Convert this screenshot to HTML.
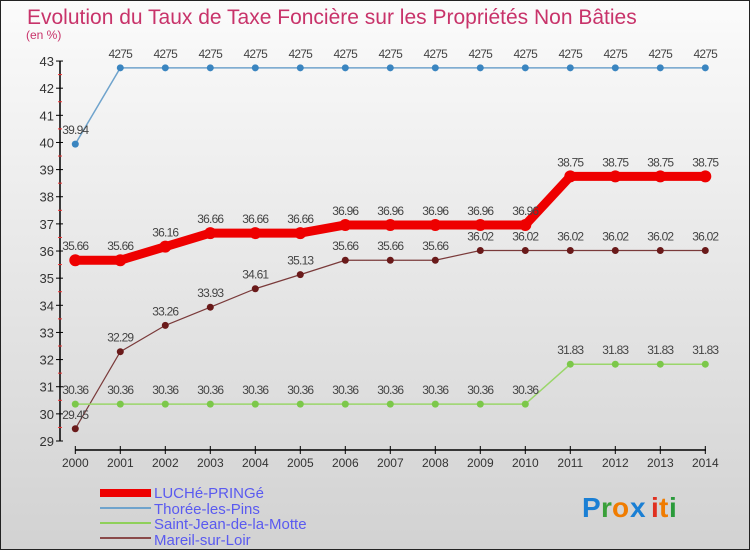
<!DOCTYPE html>
<html><head><meta charset="utf-8"><style>
body{margin:0;width:750px;height:550px;overflow:hidden;font-family:"Liberation Sans",sans-serif}
svg text{font-family:"Liberation Sans",sans-serif}
</style></head><body>
<svg id="c" width="750" height="550" xmlns="http://www.w3.org/2000/svg">
<defs><linearGradient id="bg" x1="0" y1="0" x2="0" y2="1"><stop offset="0" stop-color="#fbfbfb"/><stop offset="1" stop-color="#d2d2d2"/></linearGradient></defs>
<rect x="0.5" y="0.5" width="749" height="549" fill="url(#bg)" stroke="#222"/>
<text x="27" y="24" font-size="21" fill="#c8336a">Evolution du Taux de Taxe Foncière sur les Propriétés Non Bâties</text>
<text x="26" y="39" font-size="12" fill="#c8336a">(en %)</text>
<g id="axes"></g><g id="series"></g>
<g>
<rect x="100" y="489" width="51" height="8" fill="#e00"/>
<text x="154" y="498" font-size="15" fill="#5a5af0">LUCHé-PRINGé</text>
<rect x="100" y="507" width="51" height="2" fill="#6fa3cc"/>
<text x="154" y="514" font-size="15" fill="#5a5af0">Thorée-les-Pins</text>
<rect x="100" y="522" width="51" height="2" fill="#8fd05a"/>
<text x="154" y="529" font-size="15" fill="#5a5af0">Saint-Jean-de-la-Motte</text>
<rect x="100" y="537" width="51" height="2" fill="#8a4a4a"/>
<text x="154" y="545" font-size="15" fill="#5a5af0">Mareil-sur-Loir</text>
</g>
<g font-size="28" font-weight="bold">
<text x="582" y="517" fill="#1a7fd4">P</text><text x="601" y="517" fill="#3aa03a">r</text><text x="612" y="517" fill="#f07c00">o</text><text x="630" y="517" fill="#1a7fd4">x</text><text x="651" y="517" fill="#e03020">i</text><text x="659" y="517" fill="#f07c00">t</text><text x="669" y="517" fill="#2a9a3a">i</text>
</g>
</svg>
<script>
const years=[2000,2001,2002,2003,2004,2005,2006,2007,2008,2009,2010,2011,2012,2013,2014];
const yTicks=[29,30,31,32,33,34,35,36,37,38,39,40,41,42,43];
const luche=[35.66,35.66,36.16,36.66,36.66,36.66,36.96,36.96,36.96,36.96,36.96,38.75,38.75,38.75,38.75];
const thoree=[39.94,42.75,42.75,42.75,42.75,42.75,42.75,42.75,42.75,42.75,42.75,42.75,42.75,42.75,42.75];
const saintJean=[30.36,30.36,30.36,30.36,30.36,30.36,30.36,30.36,30.36,30.36,30.36,31.83,31.83,31.83,31.83];
const mareil=[29.45,32.29,33.26,33.93,34.61,35.13,35.66,35.66,35.66,36.02,36.02,36.02,36.02,36.02,36.02];
const NS="http://www.w3.org/2000/svg";
const xS=i=>75.3+i*45;
const yS=v=>441-(v-29)*27.14;
function mk(p,tag,at){const e=document.createElementNS(NS,tag);for(const k in at)e.setAttribute(k,at[k]);p.appendChild(e);return e;}
const ax=document.getElementById('axes');
const yAxis=mk(ax,'line',{x1:60,y1:yS(43),x2:60,y2:yS(29),stroke:'#000','stroke-width':1.5});


yTicks.forEach(t=>{
  mk(ax,'line',{x1:56,y1:yS(t),x2:63,y2:yS(t),stroke:'#000'});
  if(t<43)mk(ax,'line',{x1:58,y1:yS(t+0.5),x2:62,y2:yS(t+0.5),stroke:'#e33'});
  const l=mk(ax,'text',{x:54,y:yS(t)+5,'text-anchor':'end','font-size':13,fill:'#333'});
  l.textContent=t;
  
  
});
const xAxis=mk(ax,'line',{x1:75,y1:450,x2:706,y2:450,stroke:'#000','stroke-width':1.5});


years.forEach((y,i)=>{
  mk(ax,'line',{x1:xS(i),y1:446,x2:xS(i),y2:454,stroke:'#000'});
  const l=mk(ax,'text',{x:xS(i),y:467,'text-anchor':'middle','font-size':12,fill:'#333'});
  l.textContent=y;
  
  
});
const sg=document.getElementById('series');
function series(name,vals,color,w,r,dot){
  const g=mk(sg,'g',{});
  
  
  const pl=mk(g,'polyline',{points:vals.map((v,i)=>xS(i)+','+yS(v)).join(' '),fill:'none',stroke:color,'stroke-width':w,'stroke-linejoin':'round'});
  
  
  vals.forEach((v,i)=>{
    const c=mk(g,'circle',{cx:xS(i),cy:yS(v),r:r,fill:dot});
    
    
    const t=mk(g,'text',{x:xS(i),y:yS(v)-10,'text-anchor':'middle','font-size':12,fill:'#444','letter-spacing':'-0.8'});
    t.textContent=String(v).replace('.', name==='thoree'&&v>42?'':'.');
    
    
  });
}
series('mareil',mareil,'#7a3a3a',1.2,3.5,'#6a1a1a');
series('saint-jean',saintJean,'#9ad66a',1.5,3.5,'#7cc84a');
series('thoree',thoree,'#6fa3cc',1.5,3.5,'#3a85c0');
series('luche',luche,'#ee0000',9,6,'#ee0000');
</script>
</body></html>
